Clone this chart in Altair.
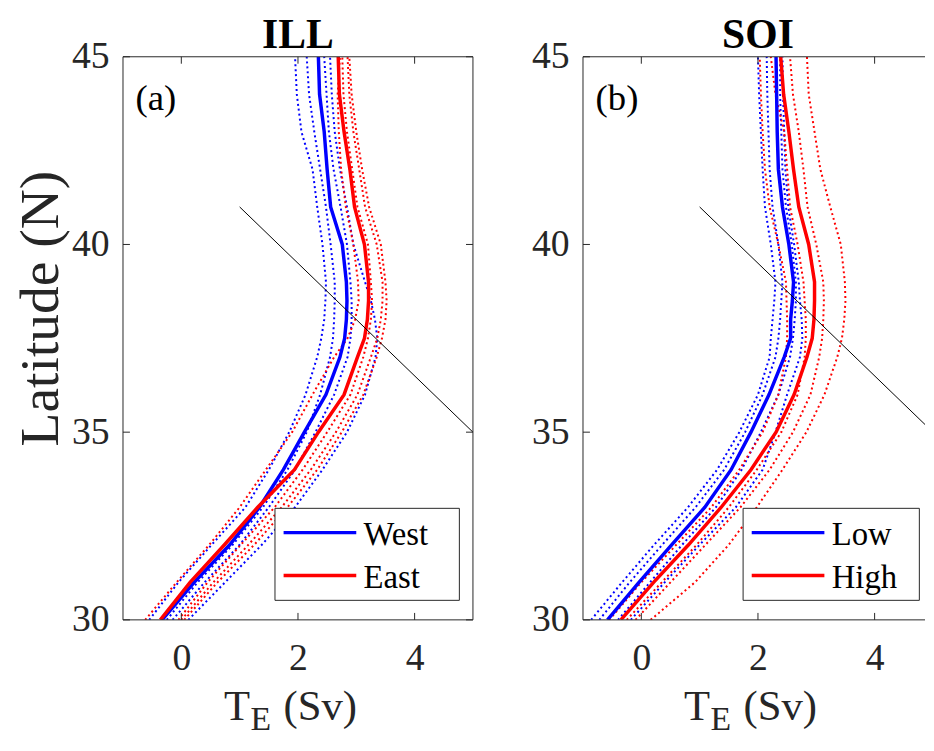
import altair as alt
import pandas as pd

# ---------------- data ----------------
LAT = [30, 31, 32, 33, 34, 35, 36, 37, 37.5, 38, 38.5, 39, 40, 41, 42, 43, 44, 45]

# Panel (a) ILL
ILL_WEST = [-0.33, 0.22, 0.83, 1.34, 1.75, 2.11, 2.48, 2.72, 2.80, 2.83, 2.84, 2.83, 2.76, 2.56, 2.50, 2.45, 2.37, 2.35]
ILL_EAST = [-0.36, 0.15, 0.74, 1.31, 1.94, 2.35, 2.79, 3.02, 3.14, 3.19, 3.21, 3.21, 3.14, 2.97, 2.89, 2.79, 2.71, 2.69]
ILL_WEST_D1 = [-0.55, -0.05, 0.52, 1.10, 1.50, 1.85, 2.13, 2.33, 2.40, 2.45, 2.47, 2.48, 2.42, 2.33, 2.25, 2.06, 1.98, 1.95]
ILL_WEST_D2 = [-0.25, 0.28, 0.88, 1.40, 1.82, 2.15, 2.38, 2.55, 2.60, 2.62, 2.63, 2.63, 2.56, 2.48, 2.38, 2.28, 2.19, 2.15]
ILL_WEST_D3 = [-0.15, 0.40, 1.00, 1.50, 1.95, 2.30, 2.62, 2.85, 2.90, 2.92, 2.92, 2.90, 2.84, 2.73, 2.61, 2.53, 2.49, 2.45]
ILL_WEST_D4 = [0.12, 0.75, 1.38, 1.95, 2.42, 2.84, 3.15, 3.33, 3.36, 3.32, 3.25, 3.15, 2.95, 2.84, 2.72, 2.63, 2.58, 2.55]
ILL_EAST_D1 = [-0.62, -0.08, 0.48, 1.00, 1.45, 1.90, 2.25, 2.62, 2.85, 2.98, 3.04, 3.03, 2.95, 2.82, 2.74, 2.70, 2.68, 2.72]
ILL_EAST_D2 = [-0.05, 0.45, 1.02, 1.60, 2.08, 2.50, 2.90, 3.12, 3.20, 3.25, 3.27, 3.25, 3.20, 3.02, 2.93, 2.84, 2.78, 2.76]
ILL_EAST_D3 = [0.00, 0.55, 1.15, 1.72, 2.22, 2.65, 3.02, 3.25, 3.36, 3.42, 3.45, 3.45, 3.35, 3.15, 3.05, 2.95, 2.88, 2.85]
ILL_EAST_D4 = [0.05, 0.62, 1.25, 1.82, 2.33, 2.75, 3.12, 3.35, 3.44, 3.50, 3.52, 3.50, 3.42, 3.22, 3.10, 3.00, 2.92, 2.88]

# Panel (b) SOI
SOI_LOW = [-0.58, -0.04, 0.52, 1.09, 1.54, 1.88, 2.19, 2.45, 2.56, 2.56, 2.59, 2.61, 2.53, 2.42, 2.35, 2.33, 2.32, 2.31]
SOI_HIGH = [-0.35, 0.21, 0.81, 1.37, 1.88, 2.31, 2.62, 2.84, 2.93, 2.96, 2.97, 2.97, 2.87, 2.70, 2.61, 2.53, 2.44, 2.39]
SOI_LOW_D1 = [-0.86, -0.33, 0.22, 0.80, 1.30, 1.68, 2.00, 2.20, 2.22, 2.25, 2.28, 2.30, 2.22, 2.12, 2.08, 2.05, 2.02, 2.00]
SOI_LOW_D2 = [-0.72, -0.20, 0.36, 0.93, 1.42, 1.78, 2.08, 2.30, 2.35, 2.38, 2.40, 2.42, 2.35, 2.25, 2.20, 2.18, 2.16, 2.15]
SOI_LOW_D3 = [-0.40, 0.15, 0.70, 1.28, 1.72, 2.05, 2.35, 2.55, 2.60, 2.63, 2.65, 2.65, 2.58, 2.48, 2.42, 2.40, 2.38, 2.38]
SOI_LOW_D4 = [-0.18, 0.40, 1.00, 1.62, 2.08, 2.30, 2.50, 2.72, 2.76, 2.75, 2.72, 2.70, 2.62, 2.52, 2.47, 2.45, 2.43, 2.42]
SOI_HIGH_D1 = [-0.55, 0.00, 0.60, 1.20, 1.68, 2.08, 2.35, 2.48, 2.50, 2.50, 2.49, 2.48, 2.35, 2.20, 2.12, 2.08, 2.05, 2.03]
SOI_HIGH_D2 = [-0.25, 0.35, 0.95, 1.50, 1.98, 2.40, 2.68, 2.80, 2.82, 2.82, 2.80, 2.78, 2.68, 2.55, 2.50, 2.45, 2.30, 2.22]
SOI_HIGH_D3 = [-0.10, 0.50, 1.10, 1.70, 2.20, 2.60, 2.90, 3.05, 3.10, 3.12, 3.13, 3.12, 3.00, 2.85, 2.78, 2.70, 2.60, 2.55]
SOI_HIGH_D4 = [0.16, 0.92, 1.50, 1.98, 2.42, 2.83, 3.14, 3.36, 3.44, 3.48, 3.50, 3.49, 3.42, 3.24, 3.07, 2.97, 2.87, 2.84]

# Black reference line
LINE_TE = [1, 5]
LINE_LAT = [41, 35]

X_TICKS = [0, 2, 4]
Y_TICKS = [30, 35, 40, 45]
PANEL_TITLES = ["ILL", "SOI"]
PANEL_TAGS = ["(a)", "(b)"]
LEGEND_A = ["West", "East"]
LEGEND_B = ["Low", "High"]
Y_TITLE = "Latitude (N)"
X_TITLE_MAIN = "T"
X_TITLE_SUB = "E"
X_TITLE_UNIT = "(Sv)"

# ---------------- styling ----------------
FONT = "Liberation Serif"
BLUE = "#0000FF"
RED = "#FF0000"
AX = "#262626"
H = 568
W_FULL = 353
W_A = 353
W_B = 345
PX_PER_UNIT = W_FULL / 6.0
XMAX_A = 5
XMAX_B = -1 + W_B / PX_PER_UNIT
LEFT_EXTENT = 116     # room left of panel (a) for the axis title
TOP_EXTENT = 46       # room above the panels for the titles
BOTTOM_EXTENT = 687   # bottom of the drawing, measured from the plot top


def lines_df(series_list):
    rows = []
    for k, vals in enumerate(series_list):
        for la, te in zip(LAT, vals):
            rows.append({"lat": la, "te": te, "member": k})
    return pd.DataFrame(rows)


def one(label):
    return pd.DataFrame({"label": [label]})


def panel(blue_mean, red_mean, blue_dots, red_dots, labels, title, tag, xmax, width,
          right_frame, legend_x, ytitle):
    xs = alt.Scale(domain=[-1, xmax], nice=False, zero=False)
    ys = alt.Scale(domain=[30, 45], nice=False, zero=False)
    xenc = alt.X("te:Q", scale=xs,
                 axis=alt.Axis(values=X_TICKS, title=None, grid=False, ticks=False, domain=False,
                               tickSize=0, labelPadding=20, labelFont=FONT, labelFontSize=38,
                               labelColor=AX, labelFlush=False))
    yenc = alt.Y("lat:Q", scale=ys,
                 axis=alt.Axis(values=Y_TICKS, title=None, grid=False, ticks=False, domain=False,
                               tickSize=0, labelPadding=14, labelFont=FONT, labelFontSize=38,
                               labelColor=AX, labelFlush=False))

    layers = []
    # invisible extent box (fixes the drawing's outer bounds)
    layers.append(alt.Chart(one("extent")).mark_rect(fill="white", opacity=0).encode(
        x=alt.value(-LEFT_EXTENT if ytitle else 0), x2=alt.value(width),
        y=alt.value(-TOP_EXTENT), y2=alt.value(BOTTOM_EXTENT)))

    # dotted members
    for dots, col in ((blue_dots, BLUE), (red_dots, RED)):
        layers.append(
            alt.Chart(lines_df(dots)).mark_line(
                color=col, strokeWidth=2, strokeDash=[2, 3], strokeCap="butt", clip=True
            ).encode(x=xenc, y=yenc, detail="member:N", order="lat:Q")
        )
    # solid means
    for mean, col in ((blue_mean, BLUE), (red_mean, RED)):
        layers.append(
            alt.Chart(lines_df([mean])).mark_line(color=col, strokeWidth=3.5, clip=True)
            .encode(x=xenc, y=yenc, order="lat:Q")
        )
    # black line
    layers.append(
        alt.Chart(pd.DataFrame({"te": LINE_TE, "lat": LINE_LAT})).mark_line(
            color="black", strokeWidth=1, clip=True
        ).encode(x=xenc, y=yenc)
    )

    # frame
    frame_df = one("frame")
    layers.append(alt.Chart(frame_df).mark_rule(color=AX, strokeWidth=1).encode(
        x=alt.value(0), x2=alt.value(width), y=alt.value(0)))
    layers.append(alt.Chart(frame_df).mark_rule(color=AX, strokeWidth=1).encode(
        x=alt.value(0), x2=alt.value(width), y=alt.value(H)))
    layers.append(alt.Chart(frame_df).mark_rule(color=AX, strokeWidth=1).encode(
        x=alt.value(0), y=alt.value(0), y2=alt.value(H)))
    if right_frame:
        layers.append(alt.Chart(frame_df).mark_rule(color=AX, strokeWidth=1).encode(
            x=alt.value(width), y=alt.value(0), y2=alt.value(H)))

    # inward ticks
    xt = pd.DataFrame({"te": X_TICKS})
    yt = pd.DataFrame({"lat": Y_TICKS})
    layers.append(alt.Chart(xt).mark_rule(color=AX, strokeWidth=1).encode(
        x=xenc, y=alt.value(H), y2=alt.value(H - 7)))
    layers.append(alt.Chart(xt).mark_rule(color=AX, strokeWidth=1).encode(
        x=xenc, y=alt.value(0), y2=alt.value(7)))
    layers.append(alt.Chart(yt).mark_rule(color=AX, strokeWidth=1).encode(
        y=yenc, x=alt.value(0), x2=alt.value(7)))
    if right_frame:
        layers.append(alt.Chart(yt).mark_rule(color=AX, strokeWidth=1).encode(
            y=yenc, x=alt.value(width - 7), x2=alt.value(width)))

    # legend
    lx0 = legend_x
    layers.append(alt.Chart(one("box")).mark_rect(fill="white", stroke=AX, strokeWidth=1).encode(
        x=alt.value(lx0), x2=alt.value(339.3), y=alt.value(455.5), y2=alt.value(548.3)))
    for i, (lab, col) in enumerate(zip(labels, (BLUE, RED))):
        yy = 480 + i * 43.3
        layers.append(alt.Chart(one(lab)).mark_rule(color=col, strokeWidth=3.5).encode(
            x=alt.value(lx0 + 8.7), x2=alt.value(lx0 + 82), y=alt.value(yy)))
        layers.append(alt.Chart(one(lab)).mark_text(
            font=FONT, fontSize=33, color="black", align="left", baseline="alphabetic"
        ).encode(x=alt.value(lx0 + 89.4), y=alt.value(yy + 12.7), text="label:N"))

    # panel tag and title
    layers.append(alt.Chart(one(tag)).mark_text(
        font=FONT, fontSize=37, color="black", align="left", baseline="alphabetic"
    ).encode(x=alt.value(12.7), y=alt.value(54), text="label:N"))
    layers.append(alt.Chart(one(title)).mark_text(
        font=FONT, fontSize=42, fontWeight="bold", color="black", align="center", baseline="alphabetic"
    ).encode(x=alt.value(W_FULL / 2), y=alt.value(-8.5), text="label:N"))

    # x title with subscript
    layers.append(alt.Chart(one(X_TITLE_MAIN)).mark_text(
        font=FONT, fontSize=43, color=AX, align="left", baseline="alphabetic"
    ).encode(x=alt.value(102), y=alt.value(669), text="label:N"))
    layers.append(alt.Chart(one(X_TITLE_SUB)).mark_text(
        font=FONT, fontSize=34, color=AX, align="left", baseline="alphabetic"
    ).encode(x=alt.value(128.5), y=alt.value(679), text="label:N"))
    layers.append(alt.Chart(one(X_TITLE_UNIT)).mark_text(
        font=FONT, fontSize=43, color=AX, align="left", baseline="alphabetic"
    ).encode(x=alt.value(162), y=alt.value(669), text="label:N"))

    if ytitle:
        layers.append(alt.Chart(one(Y_TITLE)).mark_text(
            font=FONT, fontSize=56, color=AX, align="center", baseline="alphabetic", angle=270
        ).encode(x=alt.value(-66), y=alt.value(254), text="label:N"))

    return alt.layer(*layers).properties(width=width, height=H)


pa = panel(ILL_WEST, ILL_EAST,
           [ILL_WEST_D1, ILL_WEST_D2, ILL_WEST_D3, ILL_WEST_D4],
           [ILL_EAST_D1, ILL_EAST_D2, ILL_EAST_D3, ILL_EAST_D4],
           LEGEND_A, PANEL_TITLES[0], PANEL_TAGS[0], XMAX_A, W_A, True, 153.3, True)
pb = panel(SOI_LOW, SOI_HIGH,
           [SOI_LOW_D1, SOI_LOW_D2, SOI_LOW_D3, SOI_LOW_D4],
           [SOI_HIGH_D1, SOI_HIGH_D2, SOI_HIGH_D3, SOI_HIGH_D4],
           LEGEND_B, PANEL_TITLES[1], PANEL_TAGS[1], XMAX_B, W_B, False, 161.5, False)

chart = alt.hconcat(pa, pb, spacing=111, bounds="flush").properties(
    padding={"left": 0, "top": 0, "right": 0, "bottom": 0}
).configure_view(stroke=None).configure_axis(
    labelFont=FONT, labelFontSize=38, labelColor=AX
).configure_text(font=FONT)

chart.save("out.html", embed_options={"renderer": "svg", "actions": False})
